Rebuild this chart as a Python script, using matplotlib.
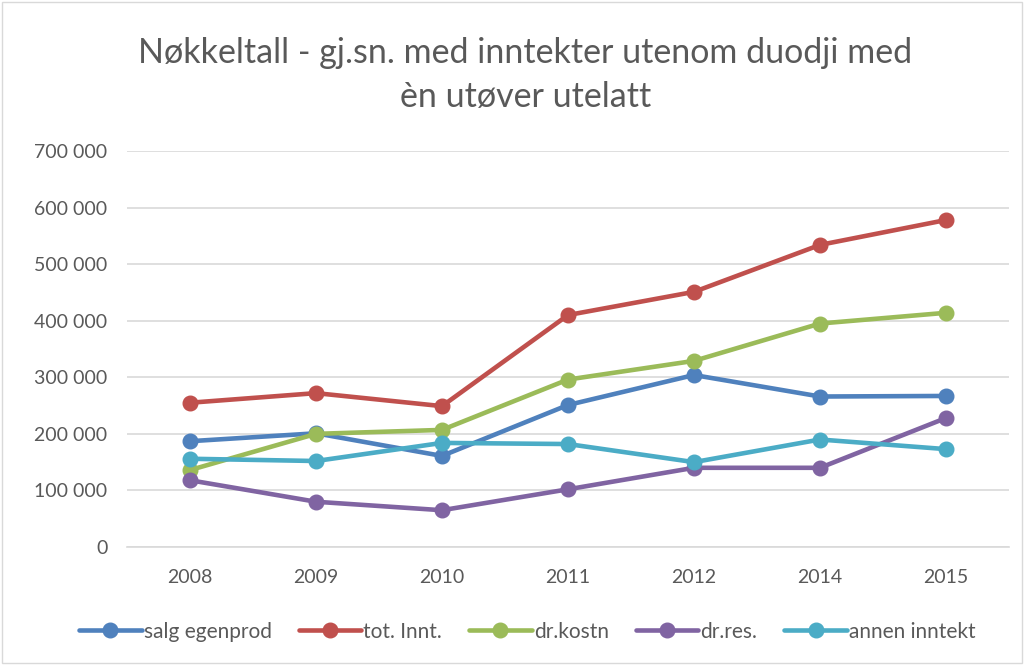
import matplotlib
matplotlib.use("Agg")
import matplotlib.pyplot as plt
from matplotlib.patches import Rectangle
from matplotlib.ticker import FuncFormatter

years = ["2008", "2009", "2010", "2011", "2012", "2014", "2015"]
salg_egenprod = [187000, 201000, 161000, 251000, 304000, 266000, 267000]
tot_innt = [255000, 272000, 249000, 410000, 451000, 534000, 578000]
dr_kostn = [136000, 200000, 207000, 296000, 329000, 395000, 414000]
dr_res = [118000, 80000, 65000, 102000, 140000, 140000, 228000]
annen_inntekt = [156000, 152000, 184000, 182000, 150000, 190000, 173000]

series_names = ["salg egenprod", "tot. Innt.", "dr.kostn", "dr.res.", "annen inntekt"]
series_values = [salg_egenprod, tot_innt, dr_kostn, dr_res, annen_inntekt]
colors = ["#4F81BD", "#C0504D", "#9BBB59", "#8064A2", "#4BACC6"]

plt.rcParams['font.family'] = ['Lato', 'DejaVu Sans']

fig = plt.figure(figsize=(10.24, 6.65), dpi=100)
ax = fig.add_axes([127/1024, 118/665, (1009-127)/1024, 396/665])

x = list(range(len(years)))
for name, vals, c in zip(series_names, series_values, colors):
    ax.plot(x, vals, color=c, lw=3.3, marker='o', markersize=10.5,
            label=name, solid_capstyle='round', solid_joinstyle='round')

ax.set_xlim(-0.5, len(years) - 0.5)
ax.set_ylim(0, 700000)
ax.set_yticks(range(0, 700001, 100000))
ax.yaxis.set_major_formatter(FuncFormatter(lambda v, p: f"{int(v):,}".replace(",", " ")))
ax.set_xticks(x)
ax.set_xticklabels(years)
ax.grid(axis='y', color='#D9D9D9', lw=1.2)
ax.set_axisbelow(True)
for s in ['top', 'right', 'left']:
    ax.spines[s].set_visible(False)
ax.spines['bottom'].set_color('#D9D9D9')
ax.spines['bottom'].set_linewidth(1.2)
ax.tick_params(axis='both', length=0, labelsize=14, colors='#595959')
ax.tick_params(axis='x', pad=16)
ax.tick_params(axis='y', pad=14)

fig.text(0.513, 0.887, "Nøkkeltall - gj.sn. med inntekter utenom duodji med\nèn utøver utelatt",
         ha='center', va='center', fontsize=24.5, color='#595959', linespacing=1.45)

leg = fig.legend(loc='center', bbox_to_anchor=(0.515, 0.05), ncol=5, frameon=False,
                 fontsize=15, handlelength=3.0, handletextpad=0.1, columnspacing=1.3,
                 labelcolor='#595959')

fig.patches.append(Rectangle((0.002, 0.003), 0.996, 0.994, transform=fig.transFigure,
                             fill=False, edgecolor='#D9D9D9', lw=1))

fig.savefig("out.png", dpi=100)
